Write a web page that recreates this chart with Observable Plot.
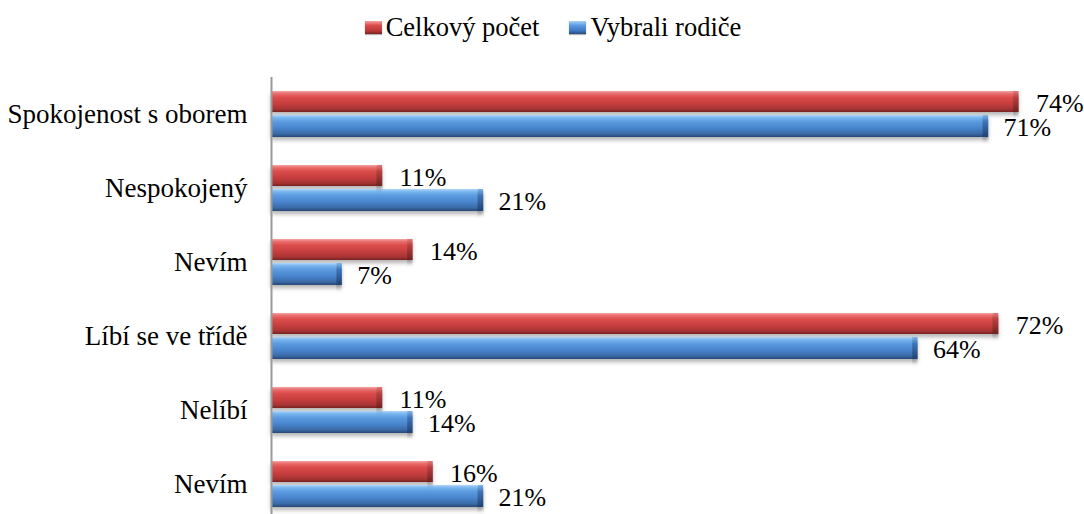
<!DOCTYPE html>
<html><head><meta charset="utf-8">
<script src="https://cdn.jsdelivr.net/npm/d3@7"></script>
<script src="https://cdn.jsdelivr.net/npm/@observablehq/plot@0.6"></script>
<style>
body{margin:0;background:#fff;font-family:"Liberation Serif";}
#legend{height:55px;display:flex;justify-content:center;align-items:flex-start;padding-left:22px;padding-top:12px;box-sizing:border-box;font-size:26.5px;line-height:30px;color:#000;}
.item{display:flex;align-items:center;margin:0 15px;}
.sw{width:17px;height:13px;margin-right:4px;box-shadow:0 1px 1px rgba(0,0,0,0.3);}
#chart svg{display:block;}
#chart svg text{font-family:"Liberation Serif";}
</style></head><body>
<div id="legend"></div><div id="chart"></div>
<script>
const categories = ["Spokojenost s oborem","Nespokojený","Nevím","Líbí se ve třídě","Nelíbí","Nevím"];
const series = ["Celkový počet","Vybrali rodiče"];
const celkovyPocet = [0.74,0.11,0.14,0.72,0.11,0.16];
const vybraliRodice = [0.71,0.21,0.07,0.64,0.14,0.21];

const keys = categories.map((c,i)=>String(i));
const red = keys.map((k,i)=>({key:k, series:series[0], value:celkovyPocet[i]}));
const blue = keys.map((k,i)=>({key:k, series:series[1], value:vybraliRodice[i]}));

const swatchBg = {
  [series[0]]: "linear-gradient(#f4a0a0,#dc4a4a 35%,#b83838 75%,#7a2424)",
  [series[1]]: "linear-gradient(#a8d0f8,#5a9ae0 35%,#3f78c0 75%,#274a7a)"
};
const legend = document.getElementById("legend");
series.forEach(s=>{
  const it=document.createElement("div");it.className="item";
  const sw=document.createElement("span");sw.className="sw";sw.style.background=swatchBg[s];
  const t=document.createElement("span");t.textContent=s;
  it.appendChild(sw);it.appendChild(t);legend.appendChild(it);
});

const pct = d3.format(".0%");
const chart = Plot.plot({
  width:1084, height:459,
  marginLeft:271, marginRight:5, marginTop:22, marginBottom:0,
  style:{fontFamily:"Liberation Serif", fontSize:"26px", color:"#000", background:"#fff"},
  x:{domain:[0,0.8], axis:null},
  y:{type:"band", domain:keys, range:[22,466], padding:0, axis:null},
  marks:[
    Plot.barX(red,{x:"value", y:"key", insetTop:14, insetBottom:39, fill:"url(#gRed)"}),
    Plot.barX(blue,{x:"value", y:"key", insetTop:38, insetBottom:14, fill:"url(#gBlue)"}),
    Plot.barX(red,{x1:d=>d.value-0.005, x2:"value", y:"key", insetTop:14, insetBottom:39, fill:"url(#gRedEnd)"}),
    Plot.barX(blue,{x1:d=>d.value-0.005, x2:"value", y:"key", insetTop:38, insetBottom:14, fill:"url(#gBlueEnd)"}),
    Plot.text(red,{x:"value", y:"key", text:d=>pct(d.value), dx:17, dy:-11, textAnchor:"start", fill:"#000", fontSize:26}),
    Plot.text(blue,{x:"value", y:"key", text:d=>pct(d.value), dx:15, dy:13, textAnchor:"start", fill:"#000", fontSize:26}),
    Plot.axisY({tickSize:0, tickPadding:24, tickFormat:k=>categories[+k], fill:"#000", label:null, fontSize:27}),
    Plot.ruleX([0],{stroke:"#9a9a9a", strokeWidth:2})
  ]
});
const svg = d3.select(chart);
const defs = svg.insert("defs",":first-child");
function grad(id, stops){
  const g=defs.append("linearGradient").attr("id",id).attr("x1",0).attr("y1",0).attr("x2",0).attr("y2",1);
  stops.forEach(([o,c])=>g.append("stop").attr("offset",o).attr("stop-color",c));
}
grad("gRed",[[0,"#f4a4a4"],[0.12,"#ea6e6e"],[0.3,"#dc4c4c"],[0.6,"#c63e3e"],[0.85,"#a83434"],[1,"#772424"]]);
grad("gBlue",[[0,"#b0d6fa"],[0.12,"#7ab6ee"],[0.3,"#5b9be0"],[0.6,"#4884cc"],[0.85,"#3a6aa6"],[1,"#264876"]]);
grad("gRedEnd",[[0,"#e07a7a"],[0.3,"#b84040"],[1,"#702222"]]);
grad("gBlueEnd",[[0,"#80b4e6"],[0.3,"#3f74b8"],[1,"#224270"]]);
const f=defs.append("filter").attr("id","sh").attr("x","-5%").attr("y","-30%").attr("width","110%").attr("height","180%");
f.append("feDropShadow").attr("dx",0).attr("dy",3).attr("stdDeviation",2).attr("flood-color","#000").attr("flood-opacity",0.3);
svg.selectAll("g[aria-label='bar'] rect").style("filter","url(#sh)");
document.getElementById("chart").appendChild(chart);
</script>
</body></html>
